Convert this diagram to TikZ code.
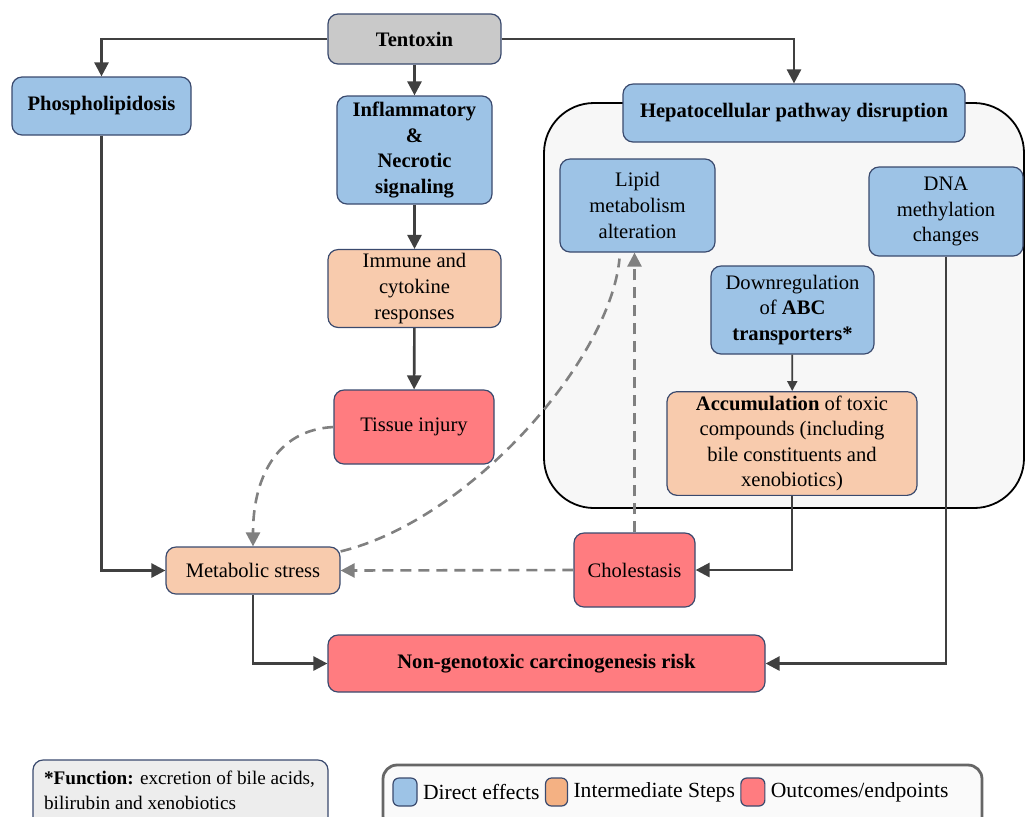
\documentclass[tikz,border=0pt]{standalone}
\usepackage{fontspec}
\setmainfont{Liberation Serif}
\usetikzlibrary{positioning, arrows.meta, calc}
\definecolor{fx_blue}{HTML}{9DC3E6}
\definecolor{fx_orange}{HTML}{F8CBAD}
\definecolor{fx_red}{HTML}{FF7C80}
\definecolor{fx_grey}{HTML}{C9C9C9}
\definecolor{key_orange}{HTML}{F4B183}
\definecolor{edge_navy}{HTML}{3A4A6E}
\definecolor{arrow_grey}{HTML}{404040}
\definecolor{hint_grey}{HTML}{808080}
\newcommand\figfont{\fontsize{10.3}{12.8}\selectfont}

\begin{document}
\begin{tikzpicture}[x=0.5pt, y=-0.5pt, >={Triangle[length=7pt, width=7pt]}, font=\figfont,
      box/.style={draw=edge_navy, line width=0.6pt, rounded corners=5pt, align=center, inner sep=2pt},
      direct/.style={box, fill=fx_blue},
      inter/.style={box, fill=fx_orange},
      outcome/.style={box, fill=fx_red},
      strong/.style={font=\figfont\bfseries},
      keytxt/.style={font=\fontsize{10.8}{13}\selectfont, inner sep=1.5pt},
      flow/.style={draw=arrow_grey, line width=1.3pt, ->},
      hint/.style={draw=hint_grey, line width=1.3pt, dash pattern=on 5.5pt off 3.5pt}]
    \useasboundingbox (0,0) rectangle (1026,816);
    \clip (0,0) rectangle (1026,816);
    % liver container
    \node[draw=black, line width=0.9pt, rounded corners=25pt, fill=black!3,
          minimum width=240pt, minimum height=202.5pt] (liver) at (784,305.5) {};
    % top level
    \node[box, strong, fill=fx_grey, minimum width=86.5pt, minimum height=25pt] (tent) at (414.5,39) {Tentoxin};
    \node[direct, strong, minimum width=89.5pt, minimum height=29pt] (phos) at (101.5,106) {Phospholipidosis};
    \node[direct, strong, minimum width=77.5pt, minimum height=54pt] (infl) at (414.5,150) {Inflammatory\\ \&\\ Necrotic\\ signaling};
    \node[direct, strong, minimum width=171pt, minimum height=29pt] (hep) at (794,113) {Hepatocellular pathway disruption};
    % middle column
    \node[inter, minimum width=86.5pt, minimum height=37.5pt] (imm) at (414.5,288.5) {Immune and\\ cytokine\\ responses};
    \node[outcome, minimum width=80pt, minimum height=37pt] (tis) at (414,427) {Tissue injury};
    % inside the liver box
    \node[direct, minimum width=77.5pt, minimum height=46.5pt] (lip) at (637.5,205.5) {Lipid\\ metabolism\\ alteration};
    \node[direct, minimum width=77pt, minimum height=44.5pt] (dna) at (946,211.5) {DNA\\ methylation\\ changes};
    \node[direct, minimum width=81.5pt, minimum height=44pt] (abc) at (792.5,310) {Downregulation\\ of \textbf{ABC}\\ \textbf{transporters*}};
    \node[inter, minimum width=125pt, minimum height=48.5pt] (acc) at (792,443.5) {\textbf{Accumulation} of toxic\\ compounds (including\\ bile constituents and\\ xenobiotics)};
    % lower row
    \node[inter, minimum width=87pt, minimum height=23.5pt] (ms) at (253,570.5) {Metabolic stress};
    \node[outcome, minimum width=60.5pt, minimum height=37pt] (chol) at (634.5,570) {Cholestasis};
    \node[outcome, strong, minimum width=218.5pt, minimum height=28.5pt] (non) at (546.5,663.5) {Non-genotoxic carcinogenesis risk};
    % solid links
    \draw[flow] (tent.west) -| (phos.north);
    \draw[flow] (tent.east) -| (hep.north);
    \foreach \a/\b in {tent/infl, infl/imm, imm/tis} \draw[flow] (\a) -- (\b);
    \draw[flow, line width=0.9pt, >={Triangle[length=5pt, width=5pt]}] (abc) -- (acc);
    \draw[flow] (phos.south) |- (ms.west);
    \draw[flow] (ms.south) |- (non.west);
    \draw[flow] (dna.south) |- (non.east);
    \draw[flow] (acc.south) |- (chol.east);
    % dashed links
    \draw[hint, ->, hint_grey] (tis.west) .. controls (275,430) and (253,480) .. (ms.north);
    \draw[hint] ([yshift=-2.5pt]ms.north east) .. controls (470,520) and (610,360) .. ([xshift=-9pt, yshift=-3pt]lip.south);
    \draw[hint, ->, hint_grey] (chol.north) -- (chol.north |- lip.south);
    \draw[hint, ->, hint_grey] (chol.west) -- (ms.east);
    % footnote
    \node[box, fill=black!7, minimum width=147.5pt, minimum height=35pt] (note) at (180.5,795) {};
    \node[anchor=west, align=left, font=\fontsize{9.6}{12.4}\selectfont] (notetxt) at (37,790)
      {\textbf{*Function:} excretion of bile acids,\\ bilirubin and xenobiotics};
    % legend
    \node[draw=black!60, line width=1.4pt, rounded corners=7pt, fill=black!2,
          minimum width=299.5pt, minimum height=32.5pt] (legend) at (682.5,797.5) {};
    \node[direct, minimum width=12pt, minimum height=14pt, inner sep=0pt, rounded corners=3pt] (k1) at (405,792) {};
    \node[keytxt, right=1pt of k1] (t1) {Direct effects};
    \node[box, fill=key_orange, minimum width=11pt, minimum height=14pt, inner sep=0pt, rounded corners=3pt, right=1pt of t1] (k2) {};
    \node[keytxt, right=1pt of k2] (t2) {Intermediate Steps};
    \node[outcome, minimum width=12pt, minimum height=14pt, inner sep=0pt, rounded corners=3pt, right=1pt of t2] (k3) {};
    \node[keytxt, right=1pt of k3] (t3) {Outcomes/endpoints};
  \end{tikzpicture}
\end{document}
